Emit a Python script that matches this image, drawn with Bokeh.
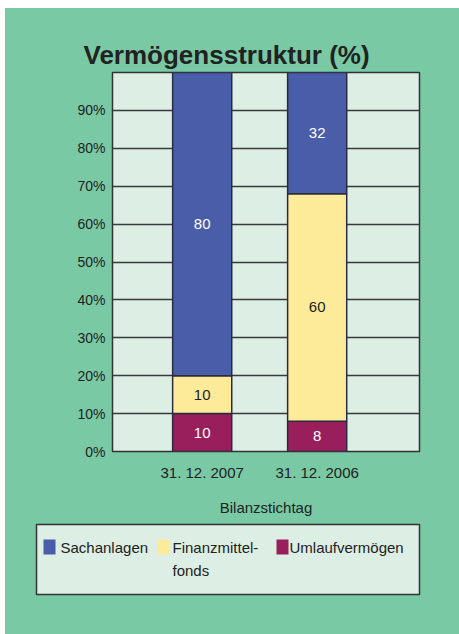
from bokeh.plotting import figure
from bokeh.models import FixedTicker, Range1d, PrintfTickFormatter, ColumnDataSource
from bokeh.layouts import column
from bokeh.embed import file_html
from bokeh.resources import INLINE
from bokeh.core.properties import value

# ---- data ----
categories = ["31. 12. 2007", "31. 12. 2006"]
sachanlagen = [80, 32]
finanzmittel = [10, 60]
umlauf = [10, 8]
series_names = ["Sachanlagen", "Finanzmittel-\nfonds", "Umlaufvermögen"]
y_ticks = [0, 10, 20, 30, 40, 50, 60, 70, 80, 90]

# ---- styles ----
GREEN = "#79c9a5"
PANEL = "#ddeee4"
BLUE = "#4a5da8"
YELLOW = "#fdeb99"
PURPLE = "#991f5c"
DARK = "#222222"
FONT = "Liberation Sans"

xs = [i + 1 for i in range(len(categories))]

p = figure(width=454, height=510, x_range=Range1d(0.22, 2.89), y_range=Range1d(0, 100),
           output_backend="svg", toolbar_location=None,
           min_border_left=107, min_border_right=40, min_border_top=64, min_border_bottom=66)
p.frame_align = False
p.border_fill_color = GREEN
p.background_fill_color = PANEL
p.outline_line_color = "#333333"
p.outline_line_width = 1.5

p.title.text = "Vermögensstruktur  (%)"
p.title.text_font = FONT
p.title.text_font_size = "26px"
p.title.text_font_style = "bold"
p.title.text_color = DARK
p.title.align = "left"
p.title.offset = -29
p.title.standoff = 6

# grid
p.xgrid.visible = False
p.ygrid.ticker = FixedTicker(ticks=y_ticks)
p.ygrid.grid_line_color = "#3a3a3a"
p.ygrid.grid_line_width = 1.3

# axes
p.yaxis.ticker = FixedTicker(ticks=y_ticks)
p.yaxis.formatter = PrintfTickFormatter(format="%d%%")
p.yaxis.major_tick_out = 0
p.yaxis.major_tick_in = 0
p.yaxis.minor_tick_line_color = None
p.yaxis.axis_line_color = None
p.yaxis.major_label_standoff = 7
p.yaxis.major_label_text_font = FONT
p.yaxis.major_label_text_font_size = "14px"
p.yaxis.major_label_text_color = DARK

p.xaxis.ticker = FixedTicker(ticks=xs)
p.xaxis.major_label_overrides = {x: c for x, c in zip(xs, categories)}
p.xaxis.major_tick_out = 0
p.xaxis.major_tick_in = 0
p.xaxis.minor_tick_line_color = None
p.xaxis.axis_line_color = None
p.xaxis.major_label_standoff = 12
p.xaxis.major_label_text_font = FONT
p.xaxis.major_label_text_font_size = "15px"
p.xaxis.major_label_text_color = DARK
p.xaxis.axis_label = "Bilanzstichtag"
p.xaxis.axis_label_text_font = FONT
p.xaxis.axis_label_text_font_size = "15px"
p.xaxis.axis_label_text_font_style = "normal"
p.xaxis.axis_label_text_color = DARK
p.xaxis.axis_label_standoff = 15

# stacked bars
series = [umlauf, finanzmittel, sachanlagen]
colors = [PURPLE, YELLOW, BLUE]
label_colors = ["white", DARK, "white"]
bottoms = [0] * len(xs)
for vals, col, lcol in zip(series, colors, label_colors):
    tops = [b + v for b, v in zip(bottoms, vals)]
    src = ColumnDataSource(dict(x=xs, bottom=bottoms, top=tops,
                                mid=[(b + t) / 2 for b, t in zip(bottoms, tops)],
                                lab=[str(v) for v in vals]))
    p.vbar(x="x", width=0.514, bottom="bottom", top="top", source=src,
           fill_color=col, line_color="#2a2a40", line_width=1.5)
    p.text(x="x", y="mid", text="lab", source=src, text_align="center",
           text_baseline="middle", text_color=lcol, text_font=value(FONT),
           text_font_size="15px")
    bottoms = tops

# legend panel
p2 = figure(width=454, height=116, x_range=Range1d(0, 454), y_range=Range1d(116, 0),
            output_backend="svg", toolbar_location=None, min_border=0)
p2.frame_align = False
p2.border_fill_color = GREEN
p2.background_fill_color = GREEN
p2.outline_line_color = None
p2.axis.visible = False
p2.grid.visible = False

p2.quad(left=31, right=414, top=6, bottom=76, fill_color=PANEL,
        line_color="#333333", line_width=1.5)
leg_colors = [BLUE, YELLOW, PURPLE]
sq_left = [38, 152, 271]
txt_left = [55, 167, 284]
p2.quad(left=sq_left, right=[s + 12 for s in sq_left], top=[21] * 3, bottom=[36] * 3,
        fill_color=leg_colors, line_color=None)
p2.text(x=txt_left, y=[20] * 3, text=series_names, text_align="left",
        text_baseline="top", text_color=DARK, text_font=value(FONT),
        text_font_size="15px", text_line_height=1.4)

layout = column(p, p2, spacing=0, margin=(8, 0, 0, 5),
                styles={"background-color": GREEN})
open("out.html", "w").write(file_html(layout, INLINE))
